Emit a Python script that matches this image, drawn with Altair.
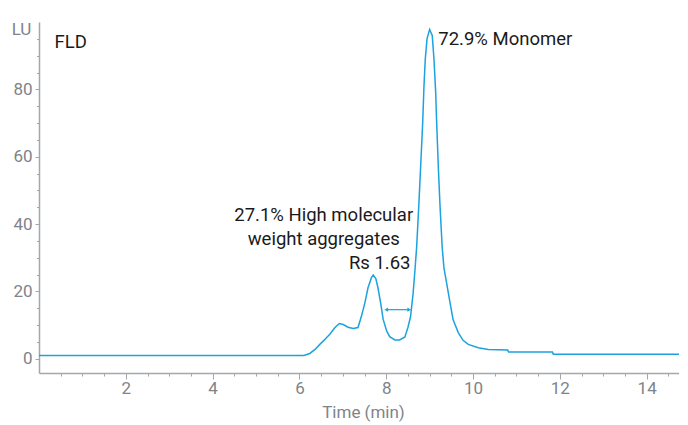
import altair as alt
import pandas as pd

# chromatogram trace (time in min, signal in LU)
time_min = [0.0, 6.10, 6.24, 6.36, 6.47, 6.59, 6.70, 6.82, 6.92, 7.01, 7.12, 7.24, 7.35,
            7.43, 7.51, 7.58, 7.66, 7.70, 7.76, 7.81, 7.87, 7.93, 8.01, 8.08, 8.20, 8.31,
            8.43, 8.50, 8.56, 8.62, 8.66, 8.70, 8.75, 8.79, 8.84, 8.87, 8.90, 8.94, 9.00,
            9.06, 9.10, 9.14, 9.16, 9.20, 9.24, 9.29, 9.33, 9.39, 9.47, 9.54, 9.66, 9.77,
            9.89, 10.12, 10.35, 10.80, 10.82, 11.83, 11.85, 14.93]
signal_lu = [1.0, 1.0, 1.6, 2.8, 4.3, 5.8, 7.3, 9.3, 10.5, 10.2, 9.4, 9.0, 9.3,
             12.7, 16.7, 21.1, 24.1, 24.9, 23.8, 21.1, 16.7, 11.7, 8.3, 6.6, 5.6, 5.6,
             6.5, 9.3, 12.5, 19.5, 26.0, 33.0, 45.3, 56.2, 70.0, 81.0, 89.0, 95.0, 97.8,
             96.0, 89.0, 79.0, 71.0, 57.0, 45.3, 33.0, 27.0, 22.6, 16.7, 11.7, 7.8, 5.5,
             4.3, 3.3, 2.8, 2.6, 2.0, 2.0, 1.4, 1.4]

# annotations
ann_text = ["FLD", "72.9% Monomer", "27.1% High molecular", "weight aggregates", "Rs 1.63"]
ann_x = [0.36, 9.20, 6.56, 6.56, 7.85]
ann_y = [94.2, 95.0, 42.6, 35.6, 28.6]
ann_align = ["left", "left", "center", "center", "center"]

# resolution arrow
arrow_x = [8.0, 8.53]
arrow_y = [14.6, 14.6]
arrow_shape = ["triangle-left", "triangle-right"]

x_major_ticks = [2, 4, 6, 8, 10, 12, 14]
x_minor_ticks = [i * 0.5 for i in range(1, 30)]
y_major_ticks = [0, 20, 40, 60, 80]
y_minor_ticks = [i * 5 for i in range(0, 20)]

BLUE = "#1ca2de"
GRAY = "#7f838a"
AXIS = "#a3a6ab"
FONT = "Roboto"

trace = pd.DataFrame({"t": time_min, "v": signal_lu})
ann = pd.DataFrame({"t": ann_x, "v": ann_y, "text": ann_text, "align": ann_align})
arr = pd.DataFrame({"t": arrow_x, "v": arrow_y, "shape": arrow_shape})

x_scale = alt.Scale(domain=[0, 14.93], nice=False, zero=False)
y_scale = alt.Scale(domain=[-4.2, 100], nice=False, zero=False)

x_axis = alt.Axis(
    values=x_major_ticks, format="d",
    labelOverlap=False, labelFlush=False,
    tickSize=6,
    title="Time (min)",
    grid=False,
    labelFont=FONT, labelFontSize=17, labelColor=GRAY, labelPadding=1,
    titleFont=FONT, titleFontSize=17, titleColor=GRAY, titleFontWeight="normal",
    titlePadding=8,
    domainColor=AXIS, tickColor=AXIS, domainWidth=1.5, tickWidth=1,
)
x_axis_minor = alt.Axis(
    values=x_minor_ticks, orient="bottom",
    tickSize=3, labels=False, domain=False, title=None, grid=False,
    tickColor=AXIS, tickWidth=1,
)
y_axis = alt.Axis(
    values=y_major_ticks, format="d",
    labelOverlap=False,
    tickSize=4,
    title="LU", titleAngle=0, titleX=-18, titleY=7, titleAlign="center",
    titleBaseline="middle",
    grid=False,
    labelFont=FONT, labelFontSize=17, labelColor=GRAY, labelPadding=3,
    titleFont=FONT, titleFontSize=17, titleColor=GRAY, titleFontWeight="normal",
    domainColor=AXIS, tickColor=AXIS, domainWidth=1.5, tickWidth=1,
)
y_axis_minor = alt.Axis(
    values=y_minor_ticks, orient="left",
    tickSize=2.5, labels=False, domain=False, title=None, grid=False,
    tickColor=AXIS, tickWidth=1,
)

line = alt.Chart(trace).mark_line(color=BLUE, strokeWidth=1.5, clip=True).encode(
    x=alt.X("t:Q", scale=x_scale, axis=x_axis),
    y=alt.Y("v:Q", scale=y_scale, axis=y_axis),
)

arrow_line = alt.Chart(arr).mark_line(color=BLUE, strokeWidth=1.2).encode(
    x=alt.X("t:Q", axis=x_axis_minor), y=alt.Y("v:Q", axis=y_axis_minor)
)
arrow_heads = alt.Chart(arr).mark_point(color=BLUE, filled=True, size=18, opacity=1).encode(
    x=alt.X("t:Q", axis=None), y=alt.Y("v:Q", axis=None),
    shape=alt.Shape("shape:N", scale=None),
)

texts = []
for a in ["left", "center"]:
    texts.append(
        alt.Chart(ann[ann["align"] == a]).mark_text(
            align=a, baseline="middle", font=FONT, fontSize=18.5, color="#1a1a1a"
        ).encode(x=alt.X("t:Q", axis=None), y=alt.Y("v:Q", axis=None), text="text:N")
    )

chart = alt.layer(line, arrow_line, arrow_heads, *texts).resolve_axis(
    x="independent", y="independent"
).properties(
    width=648, height=351,
    autosize=alt.AutoSizeParams(type="none"),
    padding={"left": 31, "top": 14, "right": -8, "bottom": 50},
).configure_view(stroke=None)

chart.save("out.html", embed_options={"renderer": "svg", "actions": False})
